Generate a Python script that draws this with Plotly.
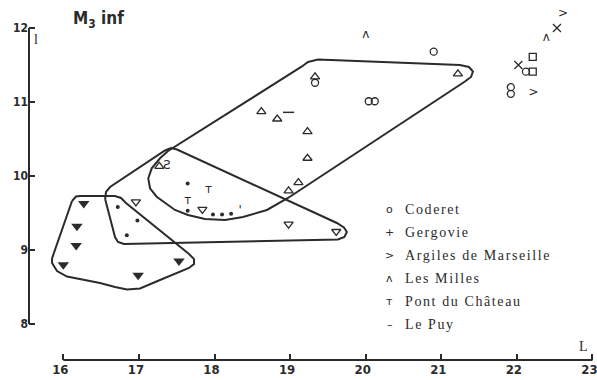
import plotly.graph_objects as go

# ---------------- data ----------------
x_ticks = [16, 17, 18, 19, 20, 21, 22, 23]
y_ticks = [8, 9, 10, 11, 12]

# open circles (Coderet)
circle_x = [19.33, 20.04, 20.12, 20.90, 22.12, 21.92, 21.92]
circle_y = [11.26, 11.01, 11.01, 11.68, 11.41, 11.20, 11.11]
# x-shaped crosses
cross_x = [22.53, 22.02]
cross_y = [12.00, 11.50]
# chevrons ">" (Argiles de Marseille)
chevron_x = [22.61, 22.22]
chevron_y = [12.19, 11.12]
# carets "^" (Les Milles)
caret_x = [20.00, 22.39]
caret_y = [11.90, 11.86]
# open squares
square_x = [22.21, 22.21]
square_y = [11.61, 11.41]
# open upward triangles
tri_up_x = [19.33, 18.62, 18.83, 21.22, 19.23, 19.23, 19.11, 18.98, 17.27]
tri_up_y = [11.34, 10.87, 10.77, 11.38, 10.60, 10.24, 9.91, 9.80, 10.13]
# open downward triangles
tri_dn_x = [16.96, 17.84, 18.98, 19.61]
tri_dn_y = [9.65, 9.55, 9.35, 9.25]
# filled downward triangles
tri_fill_x = [16.27, 16.18, 16.17, 16.00, 16.99, 17.53]
tri_fill_y = [9.63, 9.32, 9.06, 8.80, 8.66, 8.85]
# small dots
dot_x = [17.645, 17.645, 16.72, 16.98, 16.84, 17.98, 18.10, 18.22]
dot_y = [9.90, 9.53, 9.58, 9.40, 9.20, 9.48, 9.48, 9.49]
# "T" marks (Pont du Château)
tee_x = [17.645, 17.92]
tee_y = [9.66, 9.81]
# dash (Le Puy)
dash_x = [18.98]
dash_y = [10.86]
# odd glyphs
odd_x = [17.37, 18.34]
odd_y = [10.14, 9.53]
odd_text = ["Ƨ", "'"]

# group outlines
hull1_x = [16.115, 16.168, 16.221, 16.684, 16.763, 16.829, 17.663, 17.729, 17.729, 17.663,
           17.279, 17.015, 16.843, 16.684, 16.485, 16.049, 15.917, 15.851, 15.851, 16.115]
hull1_y = [9.662, 9.723, 9.730, 9.730, 9.703, 9.635, 8.946, 8.878, 8.811, 8.757,
           8.595, 8.480, 8.466, 8.500, 8.554, 8.642, 8.716, 8.824, 8.888, 9.662]

hull2_x = [16.553, 16.565, 16.618, 17.345, 17.425, 17.504, 19.619, 19.712, 19.751, 19.718,
           19.632, 17.808, 16.802, 16.723, 16.684, 16.553]
hull2_y = [9.689, 9.784, 9.851, 10.345, 10.378, 10.358, 9.365, 9.304, 9.243, 9.176,
           9.142, 9.108, 9.081, 9.108, 9.176, 9.689]

hull3_x = [19.157, 19.237, 19.369, 21.247, 21.366, 21.419, 21.393, 21.313, 18.972, 18.694,
           18.377, 18.139, 17.874, 17.649, 17.477, 17.345, 17.235, 17.147, 17.124, 17.169,
           17.279, 17.385, 19.157]
hull3_y = [11.480, 11.541, 11.574, 11.500, 11.473, 11.412, 11.338, 11.277, 9.703, 9.541,
           9.446, 9.405, 9.419, 9.473, 9.541, 9.635, 9.720, 9.834, 9.969, 10.104,
           10.239, 10.338, 11.480]

legend_symbols = ["o", "+", ">", "ʌ", "ᴛ", "–"]
legend_labels = ["Coderet", "Gergovie", "Argiles de Marseille", "Les Milles",
                 "Pont du Château", "Le Puy"]

# ---------------- styling ----------------
ink = "#2b2b2b"
narrow = "Liberation Sans Narrow, DejaVu Sans Condensed, Arial Narrow, sans-serif"
serif = "Liberation Serif, DejaVu Serif, serif"
glyph = "DejaVu Sans, sans-serif"

fig = go.Figure()

for hx, hy in [(hull1_x, hull1_y), (hull2_x, hull2_y), (hull3_x, hull3_y)]:
    fig.add_trace(go.Scatter(x=hx, y=hy, mode="lines",
                             line=dict(color=ink, width=2), hoverinfo="skip"))

def markers(x, y, symbol, size, lw=1.3):
    fig.add_trace(go.Scatter(x=x, y=y, mode="markers", cliponaxis=False,
                             marker=dict(symbol=symbol, size=size, color=ink,
                                         line=dict(color=ink, width=lw))))

markers(circle_x, circle_y, "circle-open", 7)
markers(cross_x, cross_y, "x-thin-open", 8)
markers(square_x, square_y, "square-open", 7)
markers(tri_up_x, tri_up_y, "triangle-up-open", 8)
markers(tri_dn_x, tri_dn_y, "triangle-down-open", 8)
markers(tri_fill_x, tri_fill_y, "triangle-down", 10, 0)
markers(dot_x, dot_y, "circle", 4, 0)
markers(dash_x, dash_y, "line-ew-open", 8, 1.5)

def glyphs(x, y, ch, size=12):
    txt = [ch] * len(x) if isinstance(ch, str) else ch
    fig.add_trace(go.Scatter(x=x, y=y, mode="text", text=txt,
                             cliponaxis=False, textposition="middle center",
                             textfont=dict(family=glyph, size=size, color=ink)))

glyphs(chevron_x, chevron_y, ">", 12)
glyphs(caret_x, caret_y, "ʌ", 12)
glyphs(tee_x, tee_y, "ᴛ", 12)
glyphs(odd_x, odd_y, odd_text, 12)

annotations = []
# title
annotations.append(dict(x=16.1, y=12.11, xref="x", yref="y", xanchor="left", yanchor="middle",
                        text="<b>M<sub>3</sub> inf</b>", showarrow=False,
                        font=dict(family=narrow, size=17, color=ink)))
# axis letters
annotations.append(dict(x=15.64, y=11.85, xref="x", yref="y", text="l", showarrow=False,
                        font=dict(family=serif, size=14, color=ink)))
annotations.append(dict(x=22.875, y=7.70, xref="x", yref="y", text="L", showarrow=False,
                        font=dict(family=serif, size=14, color=ink)))
# legend
leg_y0, leg_step = 9.554, 0.311
for i, (s, lab) in enumerate(zip(legend_symbols, legend_labels)):
    yy = leg_y0 - i * leg_step
    annotations.append(dict(x=20.32, y=yy, xref="x", yref="y", text=s, showarrow=False,
                            xanchor="center", yanchor="middle",
                            font=dict(family=glyph, size=11, color=ink)))
    annotations.append(dict(x=20.49, y=yy, xref="x", yref="y",
                            text='<span style="letter-spacing:1.6px">' + lab + "</span>",
                            showarrow=False, xanchor="left", yanchor="middle",
                            font=dict(family=serif, size=14, color=ink)))

shapes = [
    dict(type="line", xref="x", yref="paper", x0=16, x1=23, y0=0, y1=0,
         line=dict(color=ink, width=2)),
    dict(type="line", xref="paper", yref="y", x0=0, x1=0, y0=8, y1=12,
         line=dict(color=ink, width=2)),
]

fig.update_layout(
    width=597, height=380,
    margin=dict(l=29, r=0, t=0, b=20, autoexpand=False),
    paper_bgcolor="white", plot_bgcolor="white",
    showlegend=False,
    annotations=annotations, shapes=shapes,
    xaxis=dict(range=[15.546, 23.06], tickvals=x_ticks, ticktext=[str(v) for v in x_ticks],
               ticks="inside", ticklen=6, tickwidth=2, tickcolor=ink,
               ticklabeloverflow="allow", automargin=False, ticklabelshift=-3,
               showgrid=False, zeroline=False, showline=False,
               tickfont=dict(family=narrow, size=13, color=ink, weight="bold")),
    yaxis=dict(range=[7.514, 12.378], tickvals=y_ticks, ticktext=[str(v) for v in y_ticks],
               ticks="inside", ticklen=6, tickwidth=2, tickcolor=ink,
               automargin=False,
               showgrid=False, zeroline=False, showline=False,
               tickfont=dict(family=narrow, size=12, color=ink, weight="bold")),
)

fig.write_html("out.html", config={"displayModeBar": False},
               post_script="document.body.style.margin='0';")
